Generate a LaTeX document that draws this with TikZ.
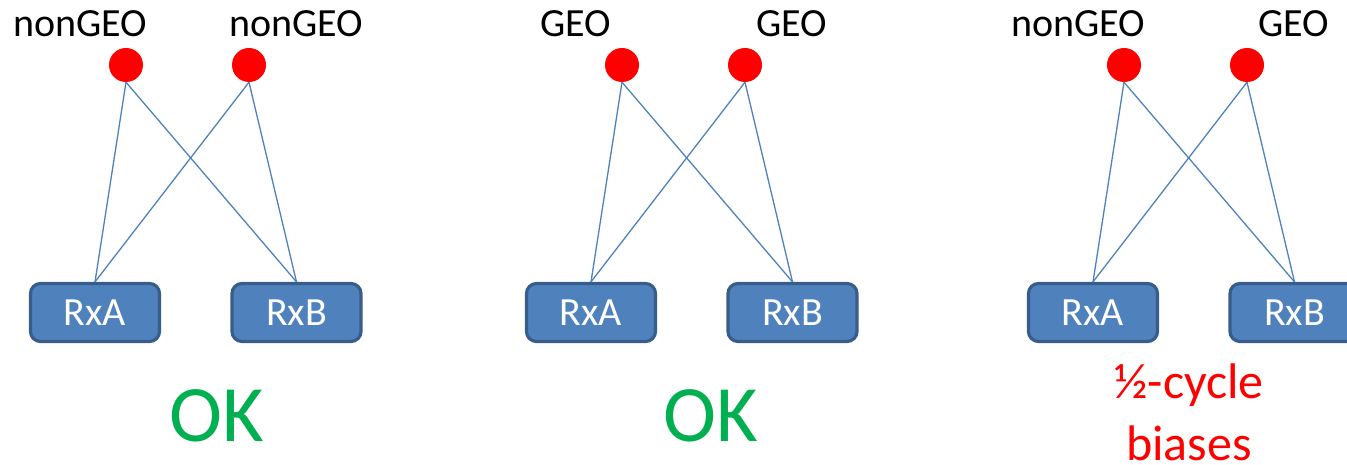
\documentclass[tikz,border=0pt]{standalone}
\usepackage{fontspec}
\setmainfont{Carlito}
\definecolor{boxfill}{HTML}{4F81BD}
\definecolor{boxline}{HTML}{385D8A}
\definecolor{okgreen}{HTML}{00B050}
\definecolor{wire}{HTML}{4F81BD}
\begin{document}
\begin{tikzpicture}[x=1pt,y=-1pt,
  site/.style={circle,fill=red,draw=none,minimum size=34pt,inner sep=0pt},
  sitelabel/.style={anchor=base,inner sep=0pt,font=\fontsize{40}{48}\selectfont},
  rx/.style={draw=boxline,line width=3.2pt,fill=boxfill,rounded corners=10pt,
    minimum width=129pt,minimum height=58pt,inner sep=0pt,text=white,
    font=\fontsize{40}{48}\selectfont},
  wireline/.style={draw=wire,line width=1.3pt},
  verdict/.style={anchor=base,inner sep=0pt,align=center}]
\useasboundingbox (0,0) rectangle (1347,465);
\foreach \p/\dx/\la/\lb in {1/0/nonGEO/nonGEO, 2/496/GEO/GEO, 3/998/nonGEO/GEO}{
  \begin{scope}[xshift=\dx pt]
    \node[sitelabel] (la\p) at (80,37) {\la};
    \node[sitelabel] (lb\p) at (296,37) {\lb};
    \node[site] (sa\p) at (126,65) {};
    \node[site] (sb\p) at (249,65) {};
    \node[rx] (ra\p) at (95,312.5) {RxA};
    \node[rx] (rb\p) at (296.5,312.5) {RxB};
    \draw[wireline] (sa\p.south) -- (ra\p.north);
    \draw[wireline] (sa\p.south) -- (rb\p.north);
    \draw[wireline] (sb\p.south) -- (ra\p.north);
    \draw[wireline] (sb\p.south) -- (rb\p.north);
  \end{scope}
}
\node[verdict,text=okgreen,font=\fontsize{80}{90}\selectfont] (ok1) at (217,441) {OK};
\node[verdict,text=okgreen,font=\fontsize{80}{90}\selectfont] (ok2) at (711,441) {OK};
% the base anchor of a two-line node sits on the last line
\node[verdict,text=red,font=\fontsize{50}{62}\selectfont] (bias) at (1189,460) {½-cycle\\biases};
\end{tikzpicture}
\end{document}
